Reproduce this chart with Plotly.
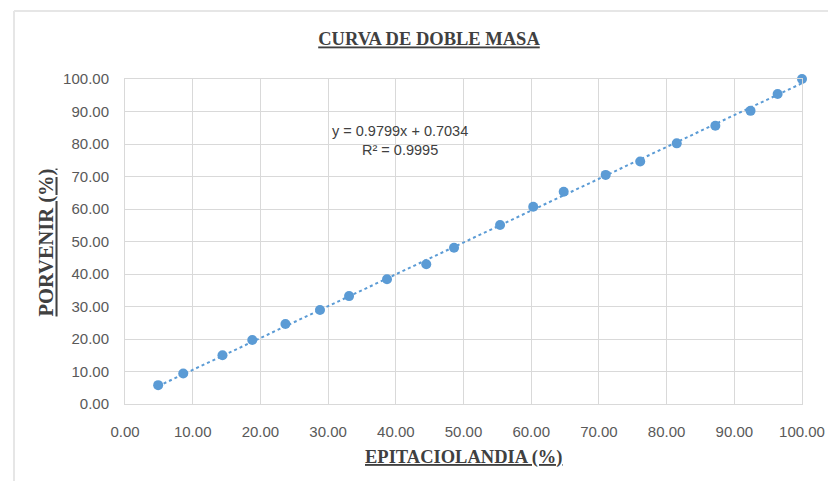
import numpy as np
import plotly.graph_objects as go

# Data
epitaciolandia = [4.9, 8.6, 14.4, 18.8, 23.7, 28.8, 33.1, 38.7, 44.5, 48.6,
                  55.4, 60.3, 64.8, 71.0, 76.1, 81.5, 87.2, 92.4, 96.4, 100.0]
porvenir = [5.8, 9.4, 15.0, 19.7, 24.6, 28.9, 33.2, 38.4, 43.0, 48.1,
            55.1, 60.7, 65.3, 70.5, 74.6, 80.2, 85.6, 90.2, 95.4, 100.0]
slope = 0.9799
intercept = 0.7034
r2 = 0.9995

blue = "#5b9bd5"
grid = "#d9d9d9"
tickcol = "#595959"
titlecol = "#404040"
serif = "Liberation Serif, Times New Roman, serif"
sans = "Liberation Sans, Arial, sans-serif"

x_arr = np.array(epitaciolandia)
trend_x = [x_arr.min(), x_arr.max()]
trend_y = [slope * v + intercept for v in trend_x]

fig = go.Figure()
fig.add_trace(go.Scatter(x=trend_x, y=trend_y, mode="lines",
                         line=dict(color=blue, width=2, dash="dot"),
                         hoverinfo="skip", showlegend=False))
fig.add_trace(go.Scatter(x=epitaciolandia, y=porvenir, mode="markers",
                         marker=dict(color=blue, size=10),
                         cliponaxis=False, showlegend=False))

# trendline label
fig.add_annotation(x=0.4062, y=0.8123, xref="paper", yref="paper",
                   xanchor="center", yanchor="middle",
                   text=f"y = {slope:.4f}x + {intercept:.4f}<br>R² = {r2:.4f}",
                   showarrow=False, align="center",
                   font=dict(family=sans, size=14.5, color=titlecol))

# axis titles
fig.add_annotation(x=0.5007, y=-0.1646, xref="paper", yref="paper",
                   xanchor="center", yanchor="middle", showarrow=False,
                   text="<b><u>EPITACIOLANDIA (%)</u></b>",
                   font=dict(family=serif, size=18.5, color=titlecol))
fig.add_annotation(x=-0.1145, y=0.4985, xref="paper", yref="paper",
                   xanchor="center", yanchor="middle", showarrow=False,
                   textangle=-90,
                   text="<b><u>PORVENIR (%)</u></b>",
                   font=dict(family=serif, size=20.5, color=titlecol))

axis_common = dict(range=[0, 100], dtick=10, tick0=0, tickformat=".2f",
                   showgrid=True, gridcolor=grid, gridwidth=1,
                   showline=True, linecolor=grid, linewidth=1, mirror=True,
                   zeroline=False, ticks="", automargin=False,
                   tickfont=dict(family=sans, size=15, color=tickcol))

fig.update_layout(
    width=828, height=481,
    margin=dict(l=125, r=26, t=79, b=77, autoexpand=False),
    paper_bgcolor="white", plot_bgcolor="white",
    title=dict(text="<b><u>CURVA DE DOBLE MASA</u></b>", x=0.5181, xanchor="center",
               xref="container", yref="container",
               y=0.9189, yanchor="middle",
               font=dict(family=serif, size=18.5, color=titlecol)),
    xaxis=dict(**axis_common, ticklabelstandoff=14),
    yaxis=dict(**axis_common, ticklabelstandoff=12),
)

# outer chart border (top and left edges visible)
fig.add_shape(type="line", xref="paper", yref="paper",
              x0=-0.164, y0=1.2092, x1=1.04, y1=1.2092,
              line=dict(color="#e6e6e6", width=2), layer="below")
fig.add_shape(type="line", xref="paper", yref="paper",
              x0=-0.164, y0=1.2092, x1=-0.164, y1=-0.24,
              line=dict(color="#e6e6e6", width=2), layer="below")

fig.write_html("out.html",
               config={"displayModeBar": False},
               post_script="document.body.style.margin='0';document.body.style.overflow='hidden';")
